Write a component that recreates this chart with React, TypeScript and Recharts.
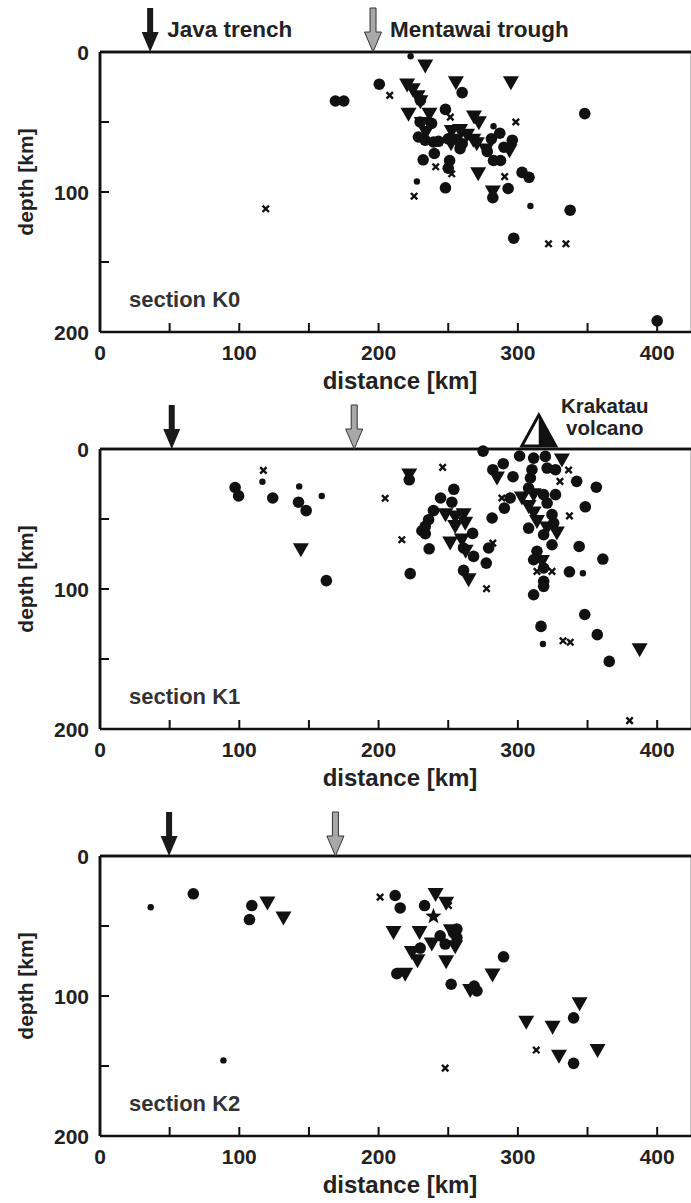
import React from "react";
import { ReferenceLine, Scatter, ScatterChart, XAxis, YAxis } from "recharts";

// tick positions
const xTicks = [0, 50, 100, 150, 200, 250, 300, 350, 400];
const yTicks = [0, 50, 100, 150, 200];

// section K0: [distance km, depth km]
const k0Circles = [
  [169, 35], [175, 35], [200.5, 23], [260, 29], [248, 41], [230, 34.5], [229.8, 50], [238, 51],
  [228.6, 60.7], [233.4, 63], [239.4, 64.3], [243, 63.8], [232, 77], [240, 72.5], [250, 62],
  [258.5, 69], [260, 65.5], [251, 77.5], [250, 83], [248, 97], [281, 62], [287, 58], [278, 71],
  [282.5, 77.5], [287.5, 77.5], [290, 68], [296, 63], [282, 104], [293, 97.5], [303, 86],
  [308, 89.5], [297, 133], [337.5, 113], [348, 44], [400, 192],
];
const k0Dots = [[223, 3], [227.5, 92.5], [282.5, 53], [309, 110]];
const k0Triangles = [
  [233.5, 10], [255.5, 22], [295, 22], [220.5, 23.5], [224.5, 27], [228, 32], [230, 35.5],
  [221.5, 44.5], [236.5, 44.5], [231, 51], [234, 57.5], [252.5, 56.7], [258.5, 56], [263.5, 59.5],
  [268, 63], [270.5, 65.5], [252, 65.5], [256, 63], [268.5, 46.5], [272, 50.5], [277, 70],
  [294, 70.5], [271.5, 87], [282, 100],
];
const k0Crosses = [
  [208, 31], [119, 112], [225.5, 103], [251.5, 46.5], [298.5, 50], [252.5, 87], [241, 82],
  [290.5, 89], [322, 137], [334.5, 137],
];

// section K1
const k1Circles = [
  [97, 27.5], [99.5, 33.5], [124, 35], [142.5, 38], [148, 44], [162.5, 94], [222, 22], [222.7, 89],
  [275, 1.5], [254, 28.8], [244.5, 35], [252.6, 38], [239.4, 44], [235.9, 50.5], [233.5, 55.3],
  [231.1, 58.4], [233.5, 60.5], [236.3, 71.3], [267.5, 60.3], [268.2, 76.7], [261, 70.7],
  [277.3, 81.5], [279, 70.7], [261, 86.7], [281.5, 49.3], [290.3, 42.2], [294.5, 35], [289.5, 10.5],
  [282, 14.8], [296.5, 19.8], [301.2, 5], [311.3, 6.5], [319.7, 5.3], [321, 13.6], [327, 14.8],
  [342.2, 23.1], [356.3, 27.3], [310.1, 14.8], [309, 20.7], [307.7, 27.9], [318.5, 32.6],
  [321, 38.6], [327, 32.6], [307.7, 56.5], [324.5, 46.9], [325.7, 52.9], [318.5, 61.2],
  [324.5, 68.4], [313.7, 73.1], [311.3, 79.1], [318.5, 85], [318.5, 94.5], [318.5, 98.1],
  [311.3, 104.1], [348.4, 41.3], [344, 69.6], [361, 78.6], [337, 87.7], [348, 118.2],
  [316.6, 126.7], [357, 132.6], [365.6, 151.7],
];
const k1Dots = [[116.6, 23.4], [143, 26.7], [159.2, 33.6], [346.7, 88.8], [318, 139.3]];
const k1Triangles = [
  [144.2, 72], [222, 18.6], [248, 47], [255, 48.5], [261, 47], [262.2, 53], [255, 55.3],
  [251.4, 67.2], [259.8, 65], [262.5, 73.1], [264.6, 93.4], [285, 20.7], [331.6, 7.8],
  [302.9, 35], [311.3, 32.6], [307.7, 41], [311.3, 45.7], [313.7, 51.7], [321, 56.5], [328, 60],
  [317.3, 80.3], [387.4, 143.4],
];
const k1Crosses = [
  [117.3, 15.3], [204.7, 35.2], [216.7, 64.8], [246, 13.1], [282, 67.2], [277.5, 99.8],
  [288.5, 35], [336.4, 15], [330.2, 23.1], [337, 47.8], [313.7, 87.4], [324.5, 87.4],
  [332.4, 137], [337.6, 138], [380.2, 194],
];

// section K2
const k2Circles = [
  [67, 27], [109, 35.4], [107.3, 45.4], [211.9, 28.2], [215.5, 37.1], [233, 35.4], [244.2, 57],
  [256.2, 52.2], [256.2, 58.2], [253.8, 54.6], [247.8, 62.9], [229.9, 65.8], [213.1, 84],
  [252.1, 91.6], [268.6, 92.9], [270.6, 96.4], [289.7, 72], [340, 115.6], [340, 148.1],
];
const k2Dots = [[36.4, 36.6], [88.6, 146]];
const k2Triangles = [
  [120.2, 33.5], [131.7, 44.2], [240.9, 27.5], [248.5, 33.7], [210.7, 54.6], [229.4, 54.6],
  [251.9, 53.4], [238.2, 62.9], [255, 64.9], [223.9, 68.9], [227.9, 74.9], [248.5, 75.6],
  [219.1, 84.5], [265.8, 96], [281.8, 85], [344.3, 105.5], [306, 118.7], [324.9, 122.3],
  [329.5, 143.1], [357.2, 139],
];
const k2Crosses = [[201.1, 29.4], [250.2, 35.4], [313.2, 138.6], [247.8, 151.5]];
const k2Stars = [[239.4, 43.1]];

// surface features (distance km)
const k0Trench = [36];
const k0Trough = [196];
const k1Trench = [51.5];
const k1Trough = [182.5];
const k1Volcano = [315];
const k2Trench = [49.6];
const k2Trough = [169];

const INK = "#111";
const TEXT = "#222";
const FONT = "'Liberation Sans', Arial, Helvetica, sans-serif";
const PAD = 60; // chart px above the plot frame

const pts = (arr: number[][]) => arr.map(([x, y]) => ({ x, y }));
const surf = (arr: number[]) => arr.map((x) => ({ x, y: 0 }));

const bigCircle = (p: any) => <circle cx={p.cx} cy={p.cy} r={5.8} fill={INK} />;
const smallCircle = (p: any) => <circle cx={p.cx} cy={p.cy} r={3.2} fill={INK} />;
const triangle = (p: any) => (
  <path d={`M${p.cx - 8},${p.cy - 6.5}L${p.cx + 8},${p.cy - 6.5}L${p.cx},${p.cy + 7.5}Z`} fill={INK} />
);
const cross = (p: any) => (
  <path
    d={`M${p.cx - 3.2},${p.cy - 3.2}L${p.cx + 3.2},${p.cy + 3.2}M${p.cx + 3.2},${p.cy - 3.2}L${p.cx - 3.2},${p.cy + 3.2}`}
    stroke={INK}
    strokeWidth={2.4}
  />
);
const star = (p: any) => {
  const out = 8.5;
  const inn = 3.6;
  let d = "";
  for (let i = 0; i < 10; i++) {
    const r = i % 2 === 0 ? out : inn;
    const a = -Math.PI / 2 + (i * Math.PI) / 5;
    d += `${i === 0 ? "M" : "L"}${p.cx + r * Math.cos(a)},${p.cy + r * Math.sin(a)}`;
  }
  return <path d={d + "Z"} fill={INK} />;
};

const arrowPath = (cx: number, cy: number) =>
  `M${cx - 3},${cy - 44}L${cx + 3},${cy - 44}L${cx + 3},${cy - 20}L${cx + 8.5},${cy - 20}L${cx},${cy}L${cx - 8.5},${cy - 20}L${cx - 3},${cy - 20}Z`;

const makeArrow = (gray: boolean, label?: string) => (p: any) => (
  <g>
    <path
      d={arrowPath(p.cx, p.cy)}
      fill={gray ? "#a8a8a8" : "#1a1a1a"}
      stroke={gray ? "#333" : "none"}
      strokeWidth={1}
    />
    {label && (
      <text x={p.cx + 17} y={p.cy - 15} fill={TEXT} fontFamily={FONT} fontWeight="bold" fontSize={22.5}>
        {label}
      </text>
    )}
  </g>
);

const volcano = (p: any) => {
  const { cx, cy } = p;
  return (
    <g>
      <path d={`M${cx},${cy - 34}L${cx + 17},${cy - 3}L${cx - 17},${cy - 3}Z`} fill="#fff" stroke={INK} strokeWidth={3} />
      <path d={`M${cx},${cy - 34}L${cx + 17},${cy - 3}L${cx},${cy - 3}Z`} fill={INK} />
      <text x={cx + 66} y={cy - 36} textAnchor="middle" fill={TEXT} fontFamily={FONT} fontWeight="bold" fontSize={20.5}>
        Krakatau
      </text>
      <text x={cx + 66} y={cy - 14} textAnchor="middle" fill={TEXT} fontFamily={FONT} fontWeight="bold" fontSize={20.5}>
        volcano
      </text>
    </g>
  );
};

const tickText = { fontFamily: FONT, fontWeight: "bold" as const, fontSize: 21, fill: TEXT };

function BottomTick({ x, y, payload }: any) {
  const v = payload.value;
  return (
    <g>
      <line x1={x} x2={x} y1={y} y2={y - 9} stroke={INK} strokeWidth={2} />
      {v % 100 === 0 && (
        <text x={x} y={y + 28} textAnchor="middle" style={tickText}>
          {v}
        </text>
      )}
    </g>
  );
}

function TopTick({ x, y }: any) {
  return <line x1={x} x2={x} y1={y} y2={y + 9} stroke={INK} strokeWidth={2} />;
}

function LeftTick({ x, y, payload }: any) {
  const v = payload.value;
  return (
    <g>
      <line x1={x} x2={x + 9} y1={y} y2={y} stroke={INK} strokeWidth={2} />
      {v % 100 === 0 && (
        <text x={x - 11} y={y} dy="0.36em" textAnchor="end" style={tickText}>
          {v}
        </text>
      )}
    </g>
  );
}

function RightTick({ x, y }: any) {
  return <line x1={x} x2={x - 9} y1={y} y2={y} stroke={INK} strokeWidth={2} />;
}

const DepthLabel = ({ viewBox }: any) => {
  const cy = viewBox.y + viewBox.height / 2 - 10;
  return (
    <text
      x={25}
      y={cy}
      transform={`rotate(-90 25 ${cy})`}
      textAnchor="middle"
      dominantBaseline="central"
      fill={TEXT}
      fontFamily={FONT}
      fontWeight="bold"
      fontSize={21}
    >
      depth [km]
    </text>
  );
};

const DistanceLabel = ({ viewBox }: any) => (
  <text
    x={viewBox.x + viewBox.width / 2 + 4}
    y={viewBox.y + 57}
    textAnchor="middle"
    fill={TEXT}
    fontFamily={FONT}
    fontWeight="bold"
    fontSize={24}
  >
    distance [km]
  </text>
);

type PanelProps = {
  frameTop: number;
  name: string;
  circles: number[][];
  dots: number[][];
  triangles: number[][];
  crosses: number[][];
  stars?: number[][];
  trench: number[];
  trough: number[];
  volcanoes?: number[];
  labelled?: boolean;
};

function Panel({ frameTop, name, circles, dots, triangles, crosses, stars, trench, trough, volcanoes, labelled }: PanelProps) {
  const axisLine = { stroke: INK, strokeWidth: 2.5 };
  const h = PAD + 280 + 68;
  return (
    <div style={{ position: "absolute", left: 0, top: frameTop - PAD, width: 693, height: h }}>
      <ScatterChart width={693} height={h} margin={{ top: PAD - 1, right: 0, bottom: 8, left: 0 }}>
        <XAxis
          xAxisId="b"
          type="number"
          dataKey="x"
          domain={[0, 425]}
          ticks={xTicks}
          tickSize={0}
          tickMargin={0}
          tick={<BottomTick />}
          axisLine={axisLine}
          height={60}
          label={{ content: <DistanceLabel /> }}
        />
        <XAxis
          xAxisId="t"
          orientation="top"
          type="number"
          dataKey="x"
          domain={[0, 425]}
          ticks={xTicks}
          tickSize={0}
          tickMargin={0}
          tick={<TopTick />}
          axisLine={axisLine}
          height={1}
        />
        <YAxis
          yAxisId="l"
          type="number"
          dataKey="y"
          domain={[0, 200]}
          reversed
          ticks={yTicks}
          tickSize={0}
          tickMargin={0}
          tick={<LeftTick />}
          axisLine={axisLine}
          width={100}
          label={{ content: <DepthLabel /> }}
        />
        <YAxis
          yAxisId="r"
          orientation="right"
          type="number"
          dataKey="y"
          domain={[0, 200]}
          reversed
          ticks={yTicks}
          tickSize={0}
          tickMargin={0}
          tick={<RightTick />}
          axisLine={axisLine}
          width={1}
        />
        <ReferenceLine xAxisId="b" yAxisId="l" x={0} stroke={INK} strokeWidth={2.5} />
        <ReferenceLine xAxisId="b" yAxisId="l" y={0} stroke={INK} strokeWidth={2.5} />
        <Scatter xAxisId="b" yAxisId="l" data={pts(crosses)} shape={cross} isAnimationActive={false} />
        <Scatter xAxisId="b" yAxisId="l" data={pts(dots)} shape={smallCircle} isAnimationActive={false} />
        <Scatter xAxisId="b" yAxisId="l" data={pts(circles)} shape={bigCircle} isAnimationActive={false} />
        <Scatter xAxisId="b" yAxisId="l" data={pts(triangles)} shape={triangle} isAnimationActive={false} />
        {stars && <Scatter xAxisId="b" yAxisId="l" data={pts(stars)} shape={star} isAnimationActive={false} />}
        <Scatter
          xAxisId="b"
          yAxisId="l"
          data={surf(trench)}
          shape={makeArrow(false, labelled ? "Java trench" : undefined)}
          isAnimationActive={false}
        />
        <Scatter
          xAxisId="b"
          yAxisId="l"
          data={surf(trough)}
          shape={makeArrow(true, labelled ? "Mentawai trough" : undefined)}
          isAnimationActive={false}
        />
        {volcanoes && (
          <Scatter xAxisId="b" yAxisId="l" data={surf(volcanoes)} shape={volcano} isAnimationActive={false} />
        )}
      </ScatterChart>
      <svg width={693} height={h} style={{ position: "absolute", left: 0, top: 0, pointerEvents: "none" }}>
        <text x={129} y={PAD + 280 - 25} fill="#333" fontFamily={FONT} fontWeight="bold" fontSize={22}>
          {name}
        </text>
      </svg>
    </div>
  );
}

export default function App() {
  return (
    <div
      style={{
        position: "absolute",
        left: 0,
        top: 0,
        width: 691,
        height: 1203,
        overflow: "hidden",
        background: "#fff",
      }}
    >
      <Panel
        frameTop={52}
        name="section K0"
        circles={k0Circles}
        dots={k0Dots}
        triangles={k0Triangles}
        crosses={k0Crosses}
        trench={k0Trench}
        trough={k0Trough}
        labelled
      />
      <Panel
        frameTop={449}
        name="section K1"
        circles={k1Circles}
        dots={k1Dots}
        triangles={k1Triangles}
        crosses={k1Crosses}
        trench={k1Trench}
        trough={k1Trough}
        volcanoes={k1Volcano}
      />
      <Panel
        frameTop={856}
        name="section K2"
        circles={k2Circles}
        dots={k2Dots}
        triangles={k2Triangles}
        crosses={k2Crosses}
        stars={k2Stars}
        trench={k2Trench}
        trough={k2Trough}
      />
    </div>
  );
}
